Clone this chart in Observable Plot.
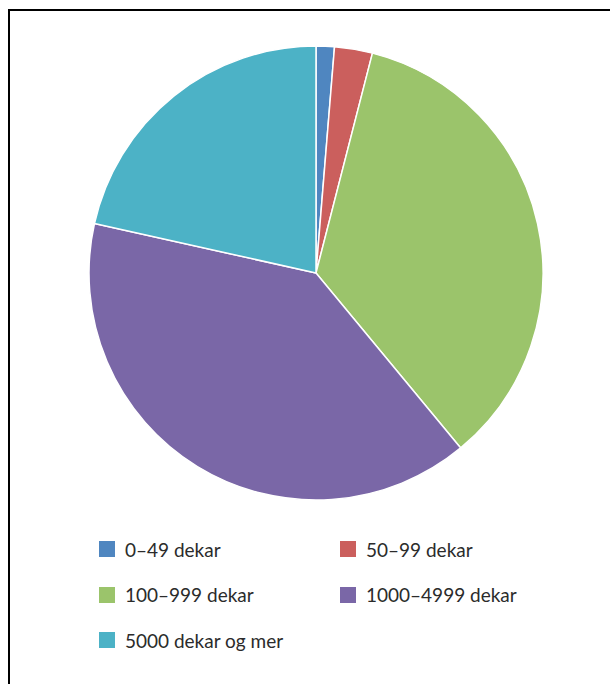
<!DOCTYPE html>
<html>
<head>
<meta charset="utf-8">
<script src="https://cdn.jsdelivr.net/npm/d3@7"></script>
<script src="https://cdn.jsdelivr.net/npm/@observablehq/plot@0.6"></script>
<style>
  html, body { margin: 0; padding: 0; background: #fff; }
  #wrap { position: relative; width: 610px; height: 684px; overflow: hidden; font-family: Lato, "Noto Sans", sans-serif; }
  #frame { position: absolute; left: 8px; top: 9px; width: 640px; height: 700px; border-left: 2px solid #000; border-top: 2px solid #000; }
  #chart { position: absolute; left: 0; top: 0; }
  #legend { position: absolute; left: 99px; top: 539px; display: grid; grid-template-columns: 241px 241px; grid-auto-rows: 45.5px; }
  .item { display: flex; align-items: center; height: 20px; font-size: 19px; color: #2b2b2b; }
  .sw { width: 16px; height: 16px; margin-right: 10px; flex: none; }
</style>
</head>
<body>
<div id="wrap">
  <div id="frame"></div>
  <div id="chart"></div>
  <div id="legend"></div>
</div>
<script>
const categories = ["0–49 dekar", "50–99 dekar", "100–999 dekar", "1000–4999 dekar", "5000 dekar og mer"];
const shares = [1.3, 2.7, 35.0, 39.5, 21.5];
const colors = ["#4f86c0", "#cb5f5d", "#9bc46b", "#7a67a7", "#4cb2c6"];

const data = categories.map((c, i) => ({category: c, value: shares[i]}));
const arcs = d3.pie().sort(null).value(d => d.value)(data);
const color = d3.scaleOrdinal(categories, colors);

function pieMark(index, scales, values, dimensions) {
  const x = scales.x, y = scales.y;
  const cx = x(0), cy = y(0);
  const r = Math.abs(x(1) - x(0));
  const arc = d3.arc().innerRadius(0).outerRadius(r);
  const g = d3.create("svg:g").attr("transform", `translate(${cx},${cy})`);
  g.selectAll("path").data(arcs).join("path")
    .attr("d", arc)
    .attr("fill", d => color(d.data.category))
    .attr("stroke", "#fff")
    .attr("stroke-width", 1.5)
    .attr("stroke-linejoin", "round");
  return g.node();
}

const chart = Plot.plot({
  width: 610,
  height: 520,
  marginLeft: 89,
  marginRight: 67,
  marginTop: 46,
  marginBottom: 20,
  x: {domain: [-1, 1], axis: null},
  y: {domain: [-1, 1], axis: null},
  style: {background: "transparent", overflow: "visible"},
  marks: [
    Plot.dot([{x: -1, y: -1}, {x: 1, y: 1}], {x: "x", y: "y", r: 0, fill: "none", stroke: "none"}),
    pieMark
  ]
});
document.getElementById("chart").appendChild(chart);

const legend = document.getElementById("legend");
categories.forEach((c, i) => {
  const item = document.createElement("div");
  item.className = "item";
  const sw = document.createElement("span");
  sw.className = "sw";
  sw.style.background = color(c);
  const t = document.createElement("span");
  t.textContent = c;
  item.appendChild(sw);
  item.appendChild(t);
  legend.appendChild(item);
});
</script>
</body>
</html>
